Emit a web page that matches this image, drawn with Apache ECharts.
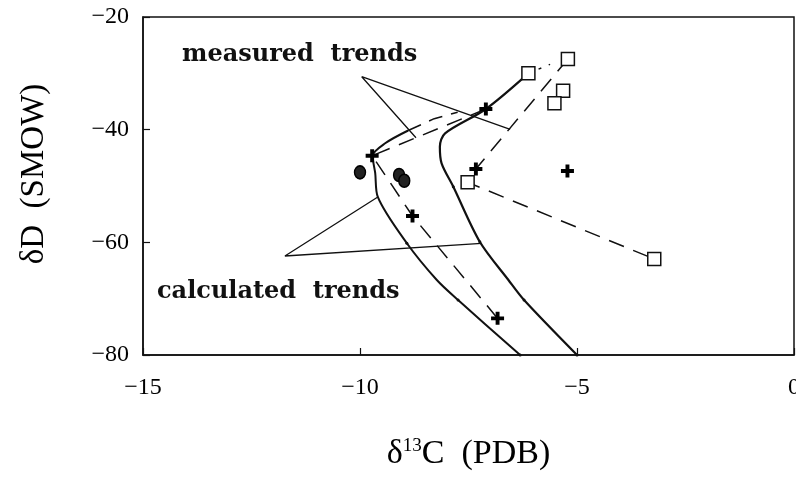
<!DOCTYPE html>
<html>
<head>
<meta charset="utf-8">
<script src="https://cdn.jsdelivr.net/npm/echarts@6/dist/echarts.min.js"></script>
<style>html,body{margin:0;padding:0;background:#fff}#c{width:796px;height:479px}</style>
</head>
<body>
<div id="c"></div>
<script>
// tick labels
const xTicks = [-15, -10, -5, 0];
const yTicks = [-20, -40, -60, -80];
// data points
const squares = [[-5.21,-27.46],[-6.12,-30.0],[-5.32,-33.08],[-5.52,-35.32],[-7.52,-49.35],[-3.22,-62.96]];
const pluses = [[-7.10,-36.33],[-7.33,-46.98],[-5.22,-47.34],[-9.72,-44.62],[-8.79,-55.33],[-6.83,-73.49]];
const dots = [[-10.0,-47.57],[-9.10,-48.05],[-8.98,-49.06]];
// measured trends (dashed)
const measured1 = [[-5.21,-27.46],[-7.33,-46.98],[-7.52,-49.35],[-3.22,-62.96]];
const measured2 = [[-7.10,-36.33],[-9.72,-44.62],[-8.79,-55.33],[-6.83,-73.49]];
// calculated trends (solid)
const calcA = [[-6.31,-80],[-7.74,-70.24],[-8.23,-66.69],[-8.92,-60.17],[-9.59,-51.95],[-9.65,-47.69],[-9.71,-44.68],[-9.42,-42.42],[-8.89,-40.15]];
const calcAext = [[-8.89,-40.15],[-8.29,-38.05],[-7.75,-36.9]];
const calcB = [[-5.0,-80],[-6.22,-70.24],[-6.58,-66.69],[-7.24,-59.89],[-7.85,-50.13],[-8.12,-45.97],[-8.16,-43.03],[-8.04,-40.65],[-7.10,-36.33],[-6.12,-30.0]];
const calcBext = [[-6.12,-30.0],[-5.62,-28.4]];
const tickDots = [[-6.31,-80],[-7.74,-70.24],[-8.92,-60.17],[-5.0,-80],[-6.22,-70.24],[-7.24,-59.89],[-7.85,-50.13]];
// annotation pointers
const pointerMeasured = [[-8.71,-41.43],[-9.96,-30.6],[-6.54,-39.94]];
const pointerCalc = [[-9.58,-51.9],[-11.73,-62.43],[-7.20,-60.17]];

const plusPath = 'path://M3.5,0H6.5V3.5H10V6.5H6.5V10H3.5V6.5H0V3.5H3.5Z';
const chart = echarts.init(document.getElementById('c'));
const serif = 'Liberation Serif';
const lineBase = {type:'line', showSymbol:false, symbol:'none', silent:true, z:2};
chart.setOption({
  animation:false,
  backgroundColor:'#fff',
  grid:{left:143, right:2, top:17, bottom:124, show:true, borderColor:'#111', borderWidth:1.5, outerBoundsMode:'none', containLabel:false},
  xAxis:{type:'value', min:-15, max:0, interval:5,
    axisLine:{show:true, onZero:false, lineStyle:{color:'#111', width:1.5}},
    axisTick:{show:true, inside:true, length:7, lineStyle:{color:'#111', width:1.2}},
    splitLine:{show:false},
    axisLabel:{color:'#000', fontFamily:serif, fontSize:24, margin:21, hideOverlap:false,
      formatter:v => xTicks.includes(v) ? (v<0 ? '\u2212'+Math.abs(v) : String(v)) : ''},
    name:'{a|\u03b4}{s|13}{a|C  (PDB)}', nameLocation:'middle', nameGap:82,
    nameTextStyle:{rich:{a:{fontFamily:serif, fontSize:34, color:'#000'}, s:{fontFamily:serif, fontSize:19, color:'#000', verticalAlign:'top', padding:[0,0,14,0]}}}
  },
  yAxis:{type:'value', min:-80, max:-20, interval:20,
    axisLine:{show:true, onZero:false, lineStyle:{color:'#111', width:1.5}},
    axisTick:{show:true, inside:true, length:7, lineStyle:{color:'#111', width:1.2}},
    splitLine:{show:false},
    axisLabel:{color:'#000', fontFamily:serif, fontSize:24, margin:14,
      formatter:v => yTicks.includes(v) ? '\u2212'+Math.abs(v) : ''},
    name:'\u03b4D  (SMOW)', nameLocation:'middle', nameGap:92, nameRotate:90,
    nameTextStyle:{fontFamily:serif, fontSize:33, color:'#000', padding:[0,0,0,24]}
  },
  graphic:[
    {type:'text', left:182, top:43, style:{text:'measured  trends', font:'bold 24px "DejaVu Serif"', fill:'#111'}},
    {type:'text', left:157, top:280, style:{text:'calculated  trends', font:'bold 24px "DejaVu Serif"', fill:'#111'}}
  ],
  series:[
    Object.assign({}, lineBase, {data:calcA, smooth:0.3, lineStyle:{color:'#111', width:2}}),
    Object.assign({}, lineBase, {data:calcAext, lineStyle:{color:'#111', width:1.5, type:[14,9]}}),
    Object.assign({}, lineBase, {data:calcB, smooth:0.3, lineStyle:{color:'#111', width:2.2}}),
    Object.assign({}, lineBase, {data:calcBext, lineStyle:{color:'#111', width:1.5, type:[3,8]}}),
    Object.assign({}, lineBase, {data:measured1, lineStyle:{color:'#111', width:1.5, type:[16,10]}}),
    Object.assign({}, lineBase, {data:measured2, lineStyle:{color:'#111', width:1.5, type:[16,10]}}),
    Object.assign({}, lineBase, {data:pointerMeasured, lineStyle:{color:'#111', width:1.3}}),
    Object.assign({}, lineBase, {data:pointerCalc, lineStyle:{color:'#111', width:1.3}}),
    {type:'scatter', data:tickDots, symbol:'circle', symbolSize:3, itemStyle:{color:'#111', opacity:1}, z:3, silent:true},
    {type:'scatter', data:squares, symbol:'rect', symbolSize:13, itemStyle:{color:'#fff', borderColor:'#111', borderWidth:1.5, opacity:1}, z:4, silent:true},
    {type:'scatter', data:pluses, symbol:plusPath, symbolSize:13, itemStyle:{color:'#000', opacity:1}, z:5, silent:true},
    {type:'scatter', data:dots, symbol:'circle', symbolSize:[11,13], itemStyle:{color:'#222', borderColor:'#000', borderWidth:1.5, opacity:1}, z:4, silent:true}
  ]
});
</script>
</body>
</html>
